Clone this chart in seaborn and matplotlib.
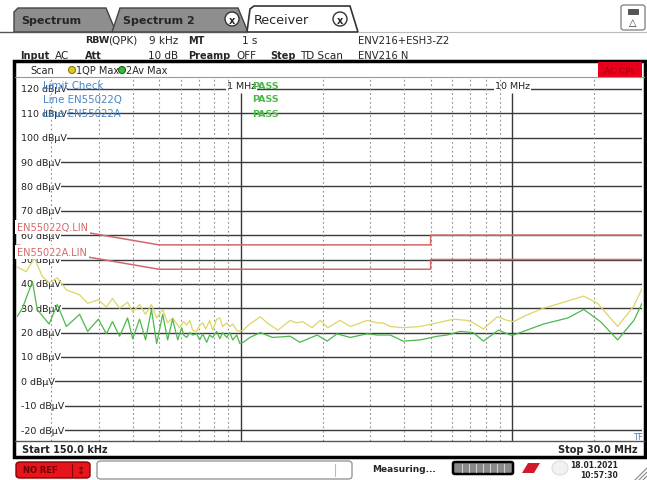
import numpy as np
import pandas as pd
import seaborn as sns
import matplotlib.pyplot as plt
from matplotlib.patches import Rectangle, FancyBboxPatch, Ellipse, Polygon
from matplotlib.lines import Line2D

W, H = 647, 481

# scan traces (MHz, dBuV)
qp_freq = [0.150, 0.162, 0.174, 0.186, 0.197, 0.211, 0.228, 0.255, 0.273, 0.299,
           0.320, 0.337, 0.358, 0.383, 0.400, 0.424, 0.446, 0.469, 0.490, 0.516,
           0.538, 0.561, 0.595, 0.616, 0.632, 0.649, 0.665, 0.688, 0.706, 0.724,
           0.743, 0.768, 0.788, 0.815, 0.837, 0.858, 0.888, 0.911, 0.934, 0.966,
           0.992, 1.02, 1.08, 1.18, 1.25, 1.37, 1.52, 1.60, 1.69, 1.83,
           1.96, 2.09, 2.32, 2.53, 2.92, 3.18, 3.34, 3.55, 3.96, 4.58,
           5.29, 6.06, 6.82, 7.18, 7.82, 8.80, 9.58, 10.1, 11.2, 13.0,
           15.5, 18.3, 20.6, 24.4, 28.0, 30.0]
qp_level = [47, 45, 50.5, 43, 40.5, 42.5, 37.5, 35.5, 32, 33.5,
            30.5, 34, 30, 32.5, 28.5, 31.5, 27.5, 31.5, 26, 29.5,
            24, 26, 22, 24.5, 23, 25, 21, 20.5, 23, 24,
            21.5, 25, 21, 25.5, 26, 22.5, 24, 22.5, 23.5, 21,
            20.5, 21, 23.5, 26.5, 24, 21, 25, 24, 24.5, 22,
            25, 22, 25, 22.5, 25, 24, 24, 22.5, 22, 22.5,
            24, 25.5, 25, 24, 21.5, 26.5, 25, 24.5, 27, 30,
            32.5, 35, 32, 22.5, 31, 38]

av_freq = [0.150, 0.157, 0.171, 0.178, 0.197, 0.211, 0.228, 0.255, 0.273, 0.299,
           0.320, 0.337, 0.358, 0.383, 0.400, 0.424, 0.446, 0.469, 0.490, 0.516,
           0.538, 0.561, 0.586, 0.606, 0.616, 0.632, 0.649, 0.665, 0.688, 0.706,
           0.724, 0.749, 0.768, 0.788, 0.815, 0.837, 0.858, 0.888, 0.911, 0.934,
           0.966, 0.992, 1.02, 1.08, 1.18, 1.31, 1.52, 1.65, 1.91, 2.08,
           2.26, 2.53, 2.92, 3.18, 3.55, 3.96, 4.58, 5.29, 5.75, 6.43,
           7.18, 7.82, 8.88, 9.83, 10.1, 13.0, 16.0, 18.3, 21.1, 24.4,
           28.0, 30.0]
av_level = [26.5, 30, 41, 29.5, 23.5, 31.5, 22.5, 27.5, 20.5, 25.5,
            19.5, 24.5, 18.5, 26, 17.5, 25.5, 17, 29.5, 15.5, 27.5,
            17, 25.5, 17, 22, 19, 18, 20, 19, 19.5, 17,
            19.5, 16, 19, 18, 20.5, 17.5, 20, 18, 20, 17,
            19, 15.5, 16, 18, 20, 18, 18.5, 16, 19, 16.5,
            19.5, 18, 19.5, 19, 19, 16.5, 17, 18.5, 19, 20.5,
            20, 16.5, 21, 19, 19, 23.5, 26, 29.5, 24.5, 17,
            25, 32]

# EN55022 limit lines
lim_freq = [0.15, 0.5, 5.0, 5.0, 30.0]
lim_q_level = [66, 56, 56, 60, 60]
lim_a_level = [56, 46, 46, 50, 50]

grid_levels = [120, 110, 100, 90, 80, 70, 60, 50, 40, 30, 20, 10, 0, -10, -20]
decade_lines = [1, 10]
minor_lines = [0.2, 0.3, 0.4, 0.5, 0.6, 0.7, 0.8, 0.9,
               2, 3, 4, 5, 6, 7, 8, 9, 20]

YEL = '#ddd566'
GRN = '#4cb84c'
RED = '#d26868'
BLUE = '#4a86c8'
GRID = '#3a3a3a'

sns.set_theme(style='white')
plt.rcParams['font.family'] = ['DejaVu Sans']


def fx(x):
    return x / W


def fy(y):
    return 1 - y / H


def ftext(x, y, s, **kw):
    kw.setdefault('va', 'center')
    kw.setdefault('fontsize', 7.5)
    fig.text(fx(x), fy(y), s, **kw)


def frect(x0, y0, x1, y1, **kw):
    fig.add_artist(Rectangle((fx(x0), fy(y1)), (x1 - x0) / W, (y1 - y0) / H,
                             transform=fig.transFigure, **kw))


def fbox(x0, y0, x1, y1, r=3, **kw):
    fig.add_artist(FancyBboxPatch((fx(x0), fy(y1)), (x1 - x0) / W, (y1 - y0) / H,
                                  boxstyle=f'round,pad=0,rounding_size={r / W}',
                                  transform=fig.transFigure, **kw))


def fline(xs, ys, **kw):
    fig.add_artist(Line2D([fx(x) for x in xs], [fy(y) for y in ys],
                          transform=fig.transFigure, **kw))


def fpoly(pts, **kw):
    fig.add_artist(Polygon([(fx(x), fy(y)) for x, y in pts], closed=True,
                           transform=fig.transFigure, **kw))


def xicon(x, y):
    fig.add_artist(Ellipse((fx(x), fy(y)), 14 / W, 14 / H, transform=fig.transFigure,
                           fc='white', ec='#333333', lw=1))
    ftext(x, y + 0.5, 'x', ha='center', fontsize=7, fontweight='bold')


fig = plt.figure(figsize=(W / 100, H / 100), dpi=100)
fig.patch.set_facecolor('white')

# tabs
fline([0, 247], [33, 33], color='#555555', lw=1)
fline([358, 647], [33, 33], color='#bbbbbb', lw=0.8)
fpoly([(14, 33), (14, 13), (18, 9), (106, 9), (116, 33)], fc='#8e8e8e', ec='#444444', lw=1)
fpoly([(112, 33), (120, 9), (238, 9), (248, 33)], fc='#8e8e8e', ec='#444444', lw=1)
fpoly([(247, 33), (250, 10), (254, 7), (350, 7), (358, 33)], fc='white', ec='#333333', lw=1.2)
ftext(21, 21, 'Spectrum', fontsize=8, fontweight='bold')
ftext(123, 21, 'Spectrum 2', fontsize=8, fontweight='bold')
xicon(232, 20)
ftext(254, 20, 'Receiver', fontsize=9.2)
xicon(340, 20)
fbox(621, 6, 645, 31, r=3, fc='white', ec='#888888', lw=1)
frect(628, 10, 638, 15, fc='#555555', ec='#333333', lw=0.5)
ftext(633, 23, '\u25b3', ha='center', fontsize=7, color='#333333')

# header
ftext(85, 41, 'RBW', fontweight='bold', fontsize=6.8)
ftext(108, 41, '(QPK)')
ftext(178, 41, '9 kHz', ha='right')
ftext(188, 41, 'MT', fontweight='bold', fontsize=7)
ftext(257, 41, '1 s', ha='right')
ftext(358, 41, 'ENV216+ESH3-Z2', fontsize=7.2)
ftext(20, 56, 'Input', fontweight='bold', fontsize=7)
ftext(55, 56, 'AC')
ftext(85, 56, 'Att', fontweight='bold', fontsize=7)
ftext(178, 56, '10 dB', ha='right')
ftext(188, 56, 'Preamp', fontweight='bold', fontsize=7)
ftext(236, 56, 'OFF')
ftext(270, 56, 'Step', fontweight='bold', fontsize=7)
ftext(300, 56, 'TD Scan')
ftext(358, 56, 'ENV216 N', fontsize=7.2)

# diagram frame
frect(14, 62, 645, 458, fc='white', ec='black', lw=2.5, zorder=0)
fline([15, 644], [78, 78], color='#999999', lw=0.8)
fline([15, 644], [442, 442], color='#555555', lw=1)
ftext(30, 71, 'Scan', fontsize=7)
fig.add_artist(Ellipse((fx(72), fy(71)), 7 / W, 7 / H, transform=fig.transFigure,
                       fc='#d8cc2a', ec='#8a8000', lw=0.8))
ftext(76, 71, '1QP Max', fontsize=7)
fig.add_artist(Ellipse((fx(122), fy(71)), 7 / W, 7 / H, transform=fig.transFigure,
                       fc='#3cb83c', ec='#1a6a1a', lw=0.8))
ftext(126, 71, '2Av Max', fontsize=7)
frect(598, 63, 642, 78, fc='#e8001a', ec='none')
ftext(620, 71, 'AC CPL', ha='center', fontsize=6.5, color='#a00010')
ftext(22, 450, 'Start 150.0 kHz', fontsize=7, fontweight='bold')
ftext(638, 450, 'Stop 30.0 MHz', ha='right', fontsize=7, fontweight='bold')

# status bar
fbox(16, 463, 90, 479, r=4, fc='#e8141c', ec='#8a0000', lw=1)
ftext(40, 471, 'NO REF', ha='center', fontsize=6, fontweight='bold', color='#6a0000')
fline([72, 72], [465, 477], color='#8a0000', lw=0.8)
ftext(81, 471, '\u2195', ha='center', fontsize=7, color='#6a0000')
fbox(97, 462, 352, 480, r=4, fc='white', ec='#999999', lw=1)
fline([335, 335], [465, 477], color='#bbbbbb', lw=0.8)
ftext(372, 470, 'Measuring...', fontsize=6.5, fontweight='bold')
fbox(453, 463, 513, 475, r=2, fc='#8a8a8a', ec='black', lw=1.8)
for sx in [462, 469, 476, 483, 490, 497, 504]:
    fline([sx, sx], [465, 473], color='#cfcfcf', lw=0.8)
fpoly([(522, 474), (528, 464), (540, 464), (534, 474)], fc='#d01a2a', ec='none')
fig.add_artist(Ellipse((fx(560), fy(469)), 16 / W, 14 / H, transform=fig.transFigure,
                       fc='#f2f2f2', ec='#dddddd', lw=0.8))
ftext(618, 466, '18.01.2021', ha='right', fontsize=5.5, fontweight='bold')
ftext(618, 476, '10:57:30', ha='right', fontsize=5.5, fontweight='bold')
for d in [4, 8, 12]:
    fline([647 - d, 647], [481, 481 - d], color='#888888', lw=0.8)

# diagram
ax = fig.add_axes([17 / W, 1 - 442 / H, 625 / W, 363 / H])
ax.set_facecolor('white')

limits = pd.concat([
    pd.DataFrame({'freq': lim_freq, 'level': lim_q_level, 'line': 'EN55022Q'}),
    pd.DataFrame({'freq': lim_freq, 'level': lim_a_level, 'line': 'EN55022A'}),
])
traces = pd.concat([
    pd.DataFrame({'freq': qp_freq, 'level': qp_level, 'trace': '1QP Max'}),
    pd.DataFrame({'freq': av_freq, 'level': av_level, 'trace': '2Av Max'}),
])

sns.lineplot(data=limits, x='freq', y='level', hue='line',
             palette={'EN55022Q': RED, 'EN55022A': RED}, estimator=None, sort=False,
             lw=1.1, legend=False, ax=ax, zorder=3)
sns.lineplot(data=traces, x='freq', y='level', hue='trace',
             palette={'1QP Max': YEL, '2Av Max': GRN}, estimator=None, sort=False,
             lw=0.9, legend=False, ax=ax, zorder=4)

ax.set_xscale('log')
ax.set_xlim(0.15, 30)
ax.set_ylim(-24.5, 124.5)
ax.set_xlabel('')
ax.set_ylabel('')
ax.tick_params(which='both', left=False, bottom=False, labelleft=False, labelbottom=False)
for s in ax.spines.values():
    s.set_visible(False)

ytr = ax.get_yaxis_transform()
for lvl in grid_levels:
    ax.axhline(lvl, xmin=0.007, color=GRID, lw=1.0, zorder=1)
    ax.text(0.006, lvl, f'{lvl} dB\u00b5V', transform=ytr, va='center', fontsize=6.8,
            color='#222222', zorder=1.5,
            bbox=dict(fc='white', ec='none', pad=0.6))
for f in minor_lines:
    ax.axvline(f, color='#8c8c8c', lw=0.8, ls=(0, (1.5, 2.5)), zorder=2)
ax.vlines(decade_lines, -24.5, 118.4, color=GRID, lw=1.0, zorder=1.2)

ax.text(0.888, 121.4, '1 MHz', va='center', fontsize=6.8, color='#222222', zorder=1.5,
        bbox=dict(fc='white', ec='none', pad=0.6))
ax.text(8.62, 121.4, '10 MHz', va='center', fontsize=6.8, color='#222222', zorder=1.5,
        bbox=dict(fc='white', ec='none', pad=0.6))

for txt, lvl in [('Limit Check', 121.6), ('Line EN55022Q', 115.9), ('Line EN55022A', 110.1)]:
    ax.text(0.0416, lvl, txt, transform=ytr, va='center', fontsize=7.4, color=BLUE, zorder=5)
    ax.text(1.098, lvl, 'PASS', va='center', fontsize=6.8, fontweight='bold', color=GRN, zorder=5)

ax.text(0.0, 63.4, 'EN55022Q.LIN', transform=ytr, va='center', fontsize=7, color=RED,
        zorder=5, bbox=dict(fc='white', ec='none', pad=1.4))
ax.text(0.0, 53.0, 'EN55022A.LIN', transform=ytr, va='center', fontsize=7, color=RED,
        zorder=5, bbox=dict(fc='white', ec='none', pad=1.4))
ax.text(0.986, -22.5, 'TF', transform=ytr, va='center', fontsize=6, color=BLUE, zorder=5)

fig.savefig('out.png', dpi=100)
